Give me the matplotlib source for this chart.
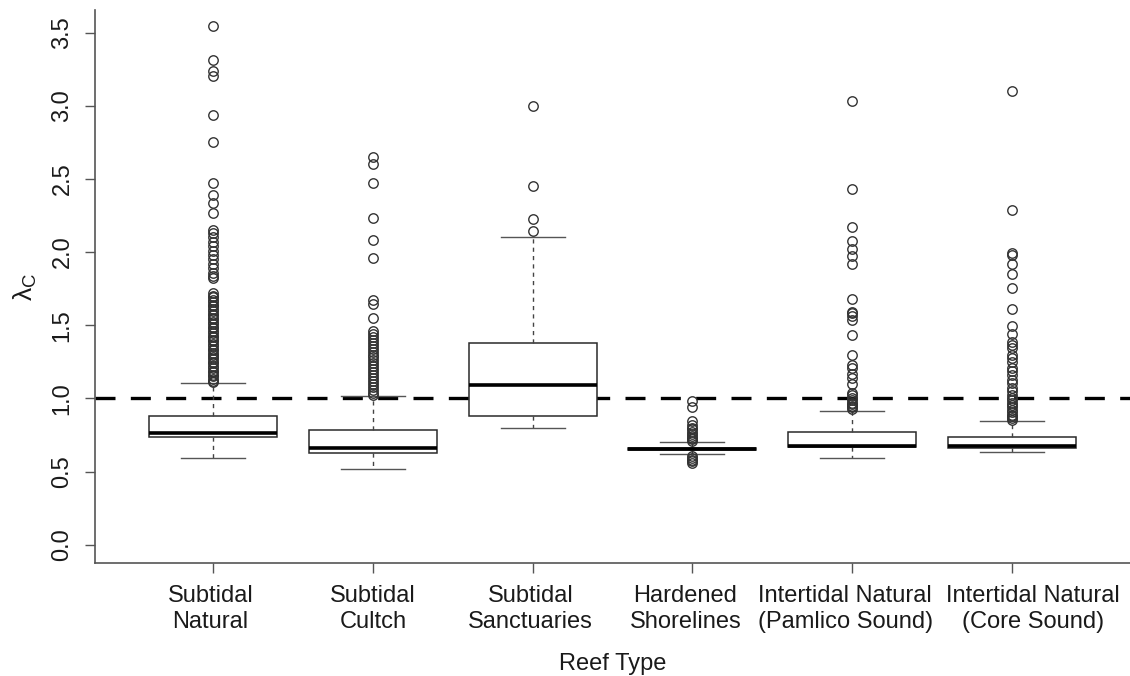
import matplotlib
matplotlib.use("Agg")
import matplotlib.pyplot as plt

plt.rcParams['font.family'] = ['Liberation Sans', 'DejaVu Sans']
plt.rcParams['mathtext.fontset'] = 'custom'
plt.rcParams['mathtext.rm'] = 'Liberation Sans'
plt.rcParams['mathtext.it'] = 'Liberation Sans'

categories = ["Subtidal\nNatural", "Subtidal\nCultch", "Subtidal\nSanctuaries",
              "Hardened\nShorelines", "Intertidal Natural\n(Pamlico Sound)",
              "Intertidal Natural\n(Core Sound)"]

whisker_low = [0.594, 0.516, 0.800, 0.622, 0.595, 0.635]
q1 = [0.735, 0.628, 0.883, 0.650, 0.669, 0.664]
median = [0.767, 0.664, 1.089, 0.656, 0.678, 0.678]
q3 = [0.878, 0.786, 1.379, 0.662, 0.773, 0.736]
whisker_high = [1.107, 1.016, 2.103, 0.702, 0.917, 0.845]

outliers_subtidal_natural = [3.545, 3.313, 3.235, 3.206, 2.939, 2.752, 2.474, 2.392, 2.338, 2.267,
                             2.15, 2.13, 2.10, 2.07, 2.04, 2.01, 1.98, 1.95, 1.92, 1.89, 1.86, 1.84, 1.82,
                             1.72, 1.70, 1.69, 1.67, 1.66, 1.64, 1.63, 1.61, 1.60, 1.58, 1.57, 1.55,
                             1.54, 1.52, 1.51, 1.49, 1.48, 1.46, 1.45, 1.43, 1.42, 1.40, 1.39, 1.37,
                             1.36, 1.34, 1.33, 1.31, 1.30, 1.28, 1.27, 1.25, 1.24, 1.22, 1.21, 1.19,
                             1.18, 1.16, 1.15, 1.13, 1.12, 1.11]
outliers_subtidal_cultch = [2.647, 2.604, 2.47, 2.23, 2.085, 1.957, 1.675, 1.647, 1.55,
                            1.46, 1.44, 1.42, 1.40, 1.38, 1.36, 1.34, 1.32, 1.30, 1.28, 1.26,
                            1.24, 1.22, 1.20, 1.18, 1.16, 1.14, 1.12, 1.10, 1.08, 1.06, 1.04, 1.02]
outliers_subtidal_sanctuaries = [3.00, 2.449, 2.226, 2.146]
outliers_hardened = [0.98, 0.941, 0.843, 0.82, 0.80, 0.79, 0.77, 0.76, 0.74, 0.73, 0.72, 0.71,
                     0.604, 0.59, 0.58, 0.57, 0.558]
outliers_pamlico = [3.035, 2.431, 2.174, 2.076, 2.023, 1.973, 1.916, 1.677, 1.59, 1.583, 1.565,
                    1.533, 1.431, 1.299, 1.23, 1.208, 1.169, 1.14, 1.098, 1.036,
                    1.02, 1.00, 0.99, 0.97, 0.96, 0.95, 0.94, 0.93]
outliers_core = [3.10, 2.285, 1.994, 1.98, 1.916, 1.848, 1.752, 1.611, 1.495, 1.437, 1.385,
                 1.367, 1.344, 1.30, 1.276, 1.25, 1.208, 1.185, 1.16, 1.128, 1.105, 1.07, 1.048,
                 1.025, 1.00, 0.991, 0.97, 0.957, 0.94, 0.923, 0.91, 0.889, 0.88, 0.866, 0.85]
outliers = [outliers_subtidal_natural, outliers_subtidal_cultch, outliers_subtidal_sanctuaries,
            outliers_hardened, outliers_pamlico, outliers_core]

y_ticks = [0.0, 0.5, 1.0, 1.5, 2.0, 2.5, 3.0, 3.5]
reference_line = 1.0

stats = []
for i in range(len(categories)):
    stats.append(dict(whislo=whisker_low[i], q1=q1[i], med=median[i], q3=q3[i],
                      whishi=whisker_high[i], fliers=outliers[i], label=categories[i]))

fig = plt.figure(figsize=(11.3, 6.76), dpi=100)
ax = fig.add_axes([95 / 1130, 113 / 676, 1 - 95 / 1130, (563 - 10) / 676])

ax.axhline(reference_line, color='black', lw=2.4, linestyle=(0, (6, 4.6)), zorder=1)

positions = list(range(1, len(categories) + 1))
ax.bxp(stats, positions=positions, widths=0.8, capwidths=0.4, patch_artist=True,
       manage_ticks=False,
       boxprops=dict(facecolor='white', edgecolor='#2a2a2a', linewidth=1.1),
       medianprops=dict(color='black', linewidth=2.6),
       whiskerprops=dict(color='#444444', linewidth=1.0, linestyle=(0, (3, 3))),
       capprops=dict(color='#555555', linewidth=1.0),
       flierprops=dict(marker='o', markerfacecolor='none', markeredgecolor='#333333',
                       markersize=6.8, markeredgewidth=1.0),
       zorder=2)

ax.set_xlim(0.26, 6.74)
ax.set_ylim(-0.125, 3.655)
ax.set_yticks(y_ticks)
ax.set_yticklabels([f"{v:.1f}" for v in y_ticks], rotation=90, va='center')
ax.set_xticks(positions)
ax.set_xticklabels([""] * len(positions))

# category labels, with the small horizontal nudges seen in the reference (points)
label_shift_pt = [-2, 0, -1.5, -5, -5, 15]
for pos, name, dx in zip(positions, categories, label_shift_pt):
    ax.annotate(name, xy=(pos, 0), xycoords=ax.get_xaxis_transform(),
                xytext=(dx, -15.5), textcoords='offset points',
                ha='center', va='top', fontsize=17, color='#1a1a1a',
                linespacing=1.28, annotation_clip=False)

for s in ['top', 'right']:
    ax.spines[s].set_visible(False)
for s in ['left', 'bottom']:
    ax.spines[s].set_color('#555555')
    ax.spines[s].set_linewidth(1.2)

ax.tick_params(axis='both', direction='out', length=7.5, width=1.0, color='#555555',
               labelsize=17, labelcolor='#1a1a1a')
ax.tick_params(axis='y', pad=8)

ax.text(0.5, -0.183, "Reef Type", transform=ax.transAxes, ha='center', va='center',
        fontsize=17, color='#1a1a1a')
ax.set_ylabel(r"$\mathregular{\lambda_C}$", fontsize=19, color='#1a1a1a', labelpad=9)

fig.savefig("out.png", dpi=100)
